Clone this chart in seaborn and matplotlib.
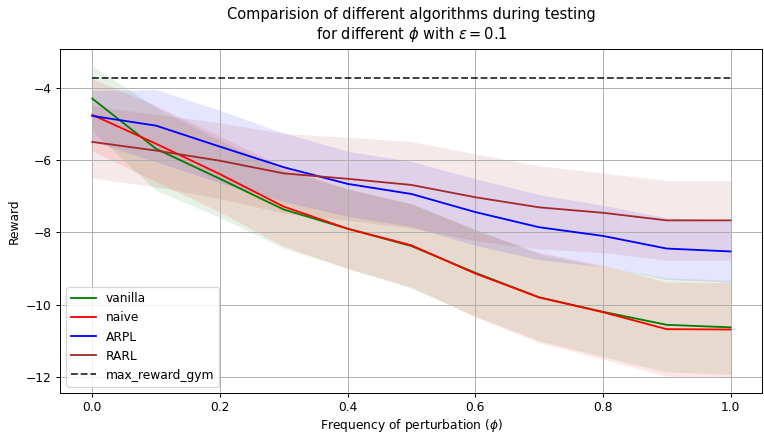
import matplotlib.pyplot as plt
import numpy as np
import seaborn as sns

phi = [0.0, 0.1, 0.2, 0.3, 0.4, 0.5, 0.6, 0.7, 0.8, 0.9, 1.0]

vanilla_mean = [-4.30, -5.69, -6.52, -7.37, -7.90, -8.38, -9.12, -9.80, -10.20, -10.56, -10.63]
vanilla_std = [0.90, 1.15, 1.07, 1.07, 1.10, 1.17, 1.20, 1.20, 1.24, 1.30, 1.30]

naive_mean = [-4.75, -5.55, -6.39, -7.29, -7.90, -8.36, -9.14, -9.80, -10.21, -10.68, -10.69]
naive_std = [1.00, 1.05, 1.05, 1.10, 1.10, 1.15, 1.20, 1.25, 1.30, 1.30, 1.30]

arpl_mean = [-4.78, -5.05, -5.63, -6.20, -6.66, -6.94, -7.44, -7.86, -8.10, -8.45, -8.53]
arpl_std = [0.70, 1.00, 1.00, 0.95, 0.90, 0.90, 0.92, 0.90, 0.85, 0.85, 0.85]

rarl_mean = [-5.50, -5.74, -6.02, -6.37, -6.52, -6.69, -7.03, -7.31, -7.46, -7.67, -7.67]
rarl_std = [1.00, 1.00, 1.05, 1.10, 1.15, 1.20, 1.20, 1.15, 1.10, 1.10, 1.10]

max_reward_gym = -3.73

series = [
  ('vanilla', vanilla_mean, vanilla_std, 'green'),
  ('naive', naive_mean, naive_std, 'red'),
  ('ARPL', arpl_mean, arpl_std, 'blue'),
  ('RARL', rarl_mean, rarl_std, 'brown'),
]

dpi = 88
fig, ax = plt.subplots(figsize=(764 / dpi, 434 / dpi), dpi=dpi)
fig.subplots_adjust(left=0.079, right=0.998, bottom=0.095, top=0.887)

for name, mean, std, color in series:
  mean = np.array(mean)
  std = np.array(std)
  sns.lineplot(x=phi, y=mean, color=color, label=name, ax=ax, linewidth=1.5)
  ax.fill_between(phi, mean - std, mean + std, color=color, alpha=0.1, linewidth=0)

sns.lineplot(x=phi, y=[max_reward_gym] * len(phi), color='k', linestyle='--',
             label='max_reward_gym', ax=ax, linewidth=1.5, alpha=0.8)

ax.set_xlim(-0.05, 1.05)
ax.set_ylim(-12.44, -2.93)
ax.set_yticks([-12, -10, -8, -6, -4])
ax.grid(True)

ax.set_title('Comparision of different algorithms during testing\nfor different $\\phi$ with $\\epsilon=0.1$', pad=8)
ax.set_xlabel('Frequency of perturbation ($\\phi$)', labelpad=2)
ax.set_ylabel('Reward')
ax.legend(loc='lower left')

plt.savefig('out.png')
